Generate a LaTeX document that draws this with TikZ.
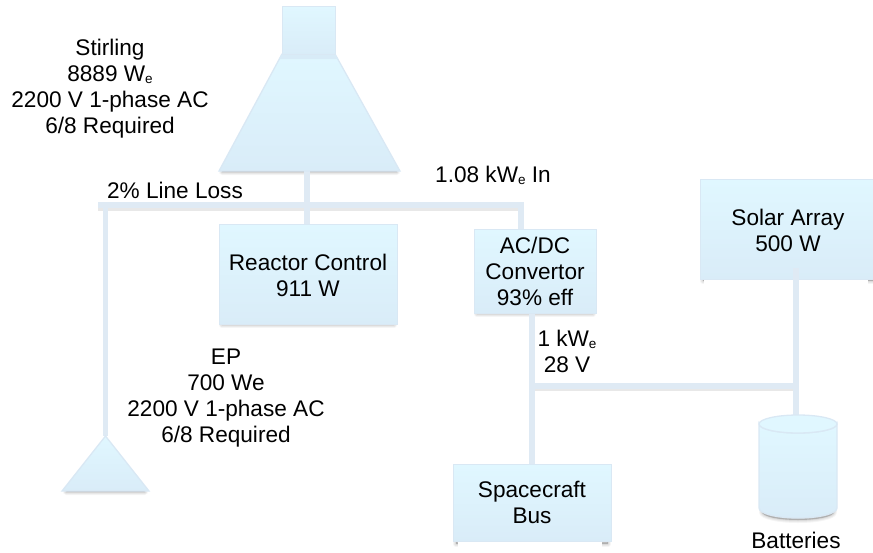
\documentclass[tikz,border=0pt]{standalone}
\usepackage{fontspec}
\setmainfont{Liberation Sans}
\definecolor{wire}{HTML}{DFEAF4}
\definecolor{edge}{HTML}{D9E8F4}
\definecolor{filltop}{HTML}{E0F7FF}
\definecolor{fillbot}{HTML}{D9ECF8}
\definecolor{stripcol}{HTML}{D8EBF7}
\tikzset{
  x=1pt,y=-1pt,
  wireline/.style={draw=wire,line width=5.5pt,line cap=butt},
  wshadow/.style={draw=black,opacity=.09,line width=3pt,line cap=butt},
  solid shape/.style={draw=edge,line width=1.3pt,top color=filltop,bottom color=fillbot},
  boxnode/.style={solid shape,minimum width=#1,inner sep=0pt,anchor=north west},
  lbl/.style={font=\fontsize{22.6}{26}\selectfont,align=center,text=black,inner sep=0pt},
}
\newcommand{\sube}{\raisebox{-2pt}{\fontsize{13.5}{14}\selectfont e}}
\newcommand{\softshadow}[1]{%
  \path[fill=black,draw=black,opacity=.04,line width=6pt,line join=round] #1;
  \path[fill=black,draw=black,opacity=.05,line width=4pt,line join=round] #1;
  \path[fill=black,draw=black,opacity=.06,line width=2pt,line join=round] #1;
  \path[fill=black,opacity=.07] #1;}
\begin{document}
\begin{tikzpicture}
\useasboundingbox (0,0) rectangle (873,552);
\clip (0,0) rectangle (873,552);
% coordinates
\coordinate (busL) at (98,205);
\coordinate (busM) at (307,205);
\coordinate (busR) at (521,205);
\coordinate (epTop) at (105.5,436);
\coordinate (epJoin) at (105.5,205);
\coordinate (outA) at (532,313);
\coordinate (dcJoin) at (532,386);
\coordinate (dcRight) at (796,386);
\coordinate (solarOut) at (796,268);
\coordinate (batTop) at (796,415);
% shadows
\softshadow{(222,231) rectangle (394,325)}
\softshadow{(477,236) rectangle (593,314)}
\softshadow{(703,186) rectangle (880,281)}
\softshadow{(456,471) rectangle (608,544)}
\softshadow{(222,172) -- (284,60) -- (333,60) -- (397,172) -- cycle}
\softshadow{(66,492) -- (105.5,444) -- (145,492) -- cycle}
\softshadow{(762,430) -- (762,512) arc[x radius=36,y radius=-8,start angle=180,end angle=360] -- (834,430) -- cycle}
% white strips under two boxes
\fill[white] (704,279) rectangle (868,284.5);
\fill[white] (458,541) rectangle (602,552);
% wire shadows
\draw[wshadow] (98,209) -- (521,209);
\draw[wshadow] (532,389.5) -- (796,389.5);
% wires
\draw[wireline] (307,171) -- (busM) -- (307,224);
\draw[wireline] (busL) -- (busM);
\draw[wireline] (busM) -- (busR) -- (521,229);
\draw[wireline] (epJoin) -- (epTop);
\draw[wireline] (outA) -- (dcJoin) -- (532,464);
\draw[wireline] (dcJoin) -- (dcRight);
\draw[wireline] (solarOut) -- (batTop);
% stirling
\path[solid shape] (219,171) -- (282,54) -- (335,54) -- (400,171) -- cycle;
\fill[stripcol] (282,54) -- (335,54) -- (338,59) -- (279,59) -- cycle;
\node[solid shape,inner sep=0pt,minimum width=53pt,minimum height=48pt,anchor=north west] (stirlingTop) at (282,6) {};
% boxes
\node[boxnode=178pt,minimum height=100pt] (reactor) at (219,224) {};
\node[boxnode=122pt,minimum height=84pt] (acdc) at (474,229) {};
\node[boxnode=190pt,minimum height=100pt] (solar) at (700,179) {};
\node[boxnode=158pt,minimum height=77pt] (bus) at (453,464) {};
\draw[wireline] (solarOut) -- (796,280);
% ep triangle
\path[solid shape] (62,491) -- (105.5,436) -- (149,491) -- cycle;
% batteries
\path[solid shape] (759,424) -- (759,508) arc[x radius=39,y radius=-10,start angle=180,end angle=360] -- (837,424) arc[x radius=39,y radius=9,start angle=0,end angle=180] -- cycle;
\draw[edge,line width=1.3pt,fill=filltop] (798,424) ellipse[x radius=39,y radius=9];
% labels
\node[lbl] (t1) at (110,89) {Stirling\\8889 W\sube\\2200 V 1-phase AC\\6/8 Required};
\node[lbl] (t2) at (175,190) {2\% Line Loss};
\node[lbl] (t3) at (493,175) {1.08 kW\sube{} In};
\node[lbl] (t4) at (308,275) {Reactor Control\\911 W};
\node[lbl] (t5) at (535,271) {AC/DC\\Convertor\\93\% eff};
\node[lbl] (t6) at (788,230) {Solar Array\\500 W};
\node[lbl] (t7) at (567,351) {1 kW\sube\\28 V};
\node[lbl] (t8) at (226,398) {EP\\700 We\\2200 V 1-phase AC\\6/8 Required};
\node[lbl] (t9) at (532,502) {Spacecraft\\Bus};
\node[lbl] (t10) at (796,540) {Batteries};
\end{tikzpicture}
\end{document}
